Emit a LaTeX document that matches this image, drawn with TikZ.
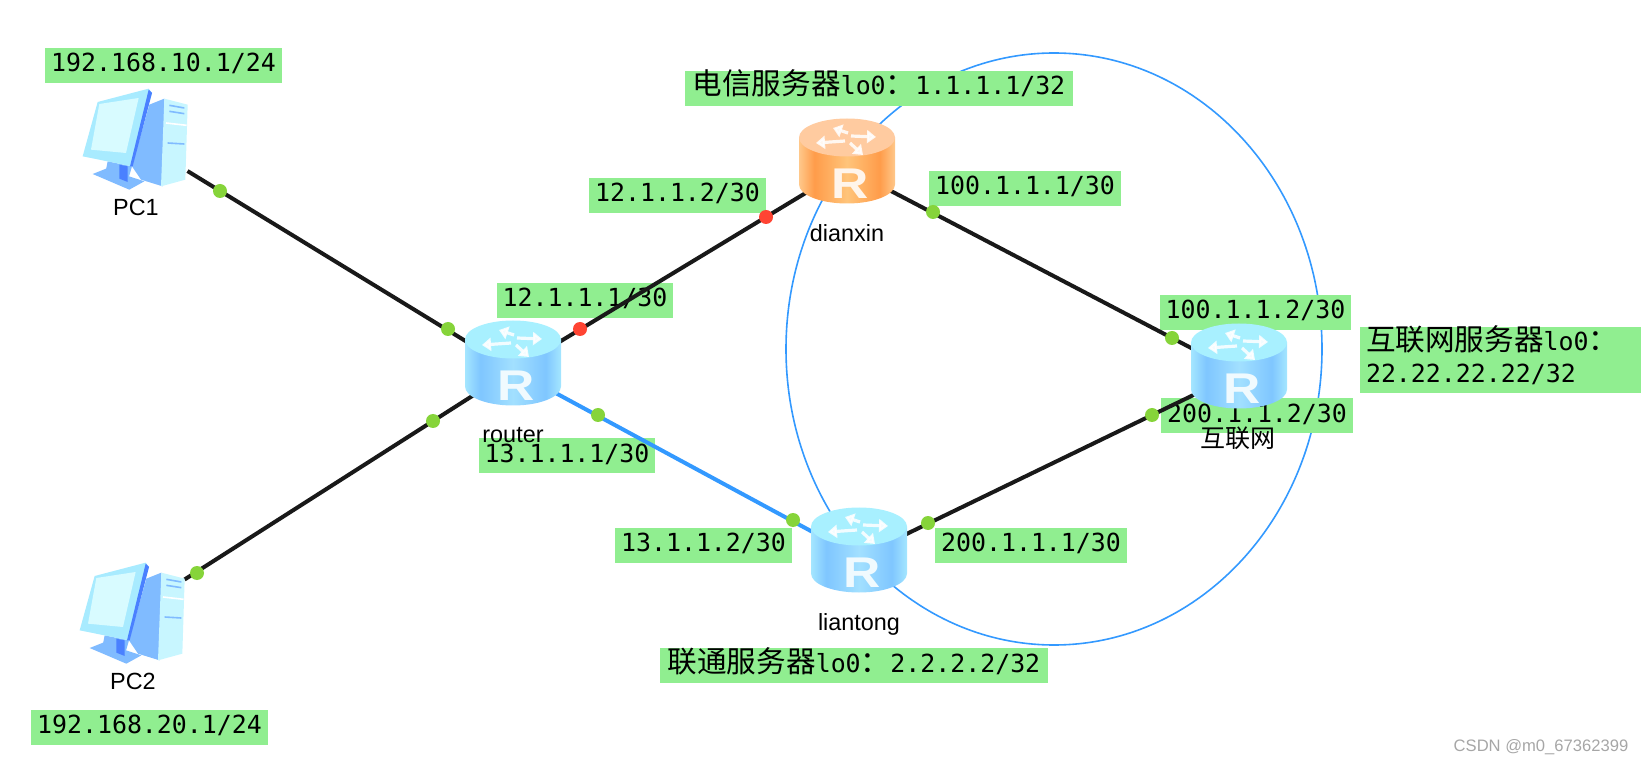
\documentclass[tikz,border=0pt]{standalone}
\usepackage{fontspec}
\setmainfont{Liberation Sans}
\newfontfamily\ipfont{DejaVu Sans Mono}
\newfontfamily\cjk{Noto Sans CJK SC}
\newcommand{\cntext}[1]{{\cjk\fontsize{14.8pt}{16pt}\selectfont #1}}
\usetikzlibrary{arrows.meta,calc,positioning}
\definecolor{labelgreen}{HTML}{90EE90}
\definecolor{linkblue}{HTML}{3399FF}
\definecolor{portgreen}{HTML}{86D43A}
\definecolor{portred}{HTML}{FF4433}
\definecolor{bluetop}{HTML}{A8F0FF}
\definecolor{blueedge}{HTML}{A4E6FF}
\definecolor{bluedark}{HTML}{7FC6FF}
\definecolor{bluemid}{HTML}{A2E0FF}
\definecolor{orangetop}{HTML}{FFCBA0}
\definecolor{orangeedge}{HTML}{FFC88A}
\definecolor{orangedark}{HTML}{FF9C4A}
\definecolor{orangemid}{HTML}{FFC47A}
\definecolor{pcframe}{HTML}{A8EBFF}
\definecolor{pcscreen}{HTML}{D8FBFF}
\definecolor{pctower}{HTML}{C8F6FF}
\definecolor{pcside}{HTML}{80BBFF}
\definecolor{pcdark}{HTML}{4A80FF}
\pgfdeclarehorizontalshading{blueside}{100bp}{color(0bp)=(blueedge); color(25bp)=(blueedge); color(33bp)=(bluedark); color(50bp)=(bluemid); color(67bp)=(bluedark); color(75bp)=(blueedge); color(100bp)=(blueedge)}
\pgfdeclarehorizontalshading{orangeside}{100bp}{color(0bp)=(orangeedge); color(25bp)=(orangeedge); color(33bp)=(orangedark); color(50bp)=(orangemid); color(67bp)=(orangedark); color(75bp)=(orangeedge); color(100bp)=(orangeedge)}
\tikzset{
    devnode/.style={inner sep=0pt,outer sep=0pt},
    routernode/.style={devnode,minimum width=30pt,minimum height=25pt},
    pcnode/.style={devnode,minimum width=52.5pt,minimum height=51pt},
    devname/.style={inner sep=0pt,font=\fontsize{11.7pt}{14pt}\selectfont},
    iplabel/.style={fill=labelgreen,inner xsep=3pt,inner ysep=0pt,text height=12pt,text depth=5.5pt,
        font=\ipfont\fontsize{12.45pt}{16pt}\selectfont},
    netlink/.style={line width=2pt,draw=black!90},
    bluelink/.style={line width=2pt,draw=linkblue},
    ringlink/.style={line width=0.8pt,draw=linkblue},
    pics/routericon/.style n args={3}{code={
        \shade[shading=#1] (-48,-23.5) -- (-48,23.5) arc[start angle=180,end angle=360,x radius=24pt,y radius=9.5pt] -- (48,-23.5) -- cycle;
        \fill[#2] (0,-23.5) ellipse [x radius=24pt,y radius=9.5pt];
        \foreach \ax/\ay/\bx/\by in {1/-28/-14/-33,4/-25/29/-24,-2/-20/-31/-18,3/-18/16/-6}{
            \draw[white,opacity=0.85,line width=1.6pt,-{Triangle[length=4.5pt,width=6.5pt]}] (\ax,\ay) -- (\bx,\by);}
        \node[inner sep=0pt,text=#3,xscale=1.2,font=\bfseries\fontsize{21.5pt}{24pt}\selectfont] (letter) at (3,22.5) {R};
    }},
    pics/pcicon/.style={code={
        \begin{scope}[x=0.1667pt,y=-0.1667pt,shift={(-187,-173)}]
        \fill[pcside] (60,278) -- (100,262) -- (215,300) -- (170,325) -- cycle;
        \fill[pcside] (105,240) -- (178,255) -- (165,300) -- (100,265) -- cycle;
        \fill[pcdark] (140,250) -- (165,255) -- (165,302) -- (140,292) -- cycle;
        \fill[pcside] (230,70) -- (275,52) -- (270,315) -- (205,295) -- (178,255) -- cycle;
        \fill[pctower] (275,52) -- (345,70) -- (338,295) -- (265,315) -- cycle;
        \draw[pcside,line width=0.8pt] (290,72) -- (335,80) (290,90) -- (335,97) (285,185) -- (335,188);
        \draw[white,line width=0.8pt] (280,125) -- (342,132);
        \fill[pcframe] (75,62) -- (228,22) -- (238,35) -- (178,255) -- (30,225) -- cycle;
        \fill[pcscreen] (80,68) -- (198,50) -- (160,215) -- (55,205) -- cycle;
        \fill[pcdark] (228,25) -- (238,35) -- (180,255) -- (172,255) -- cycle;
        \end{scope}
    }}
}
\begin{document}
\begin{tikzpicture}[x=0.5pt,y=-0.5pt]
  \useasboundingbox (0,0) rectangle (1644,764);
  \node[pcnode] (pc1) at (135,139) {};
  \node[pcnode] (pc2) at (132,613) {};
  \node[routernode] (router) at (513,370) {};
  \node[routernode] (dianxin) at (847,168) {};
  \node[routernode] (liantong) at (859,557) {};
  \node[routernode] (hulianwang) at (1239,373) {};
  \draw[ringlink] (1054,349) ellipse [x radius=134pt,y radius=148pt];
  \node[iplabel] (ippc1) at (163.5,65.5) {192.168.10.1/24};
  \node[iplabel] (ippc2) at (149.5,727) {192.168.20.1/24};
  \node[iplabel] (iprone) at (585,300.5) {12.1.1.1/30};
  \node[iplabel] (iprtwo) at (567,456) {13.1.1.1/30};
  \node[iplabel] (ipdxa) at (677.5,195.5) {12.1.1.2/30};
  \node[iplabel] (ipdxb) at (1025,188.5) {100.1.1.1/30};
  \node[iplabel] (iphla) at (1255.5,312.5) {100.1.1.2/30};
  \node[iplabel] (iphlb) at (1257,416) {200.1.1.2/30};
  \node[iplabel] (iplta) at (703.5,545.5) {13.1.1.2/30};
  \node[iplabel] (ipltb) at (1031,545.5) {200.1.1.1/30};
  \node[iplabel,inner xsep=3.7pt] (lodx) at (879,88.5) {\cntext{电信服务器}lo0\cntext{：}1.1.1.1/32};
  \node[iplabel,inner xsep=3.7pt] (lolt) at (854,665.5) {\cntext{联通服务器}lo0\cntext{：}2.2.2.2/32};
  \node[iplabel,align=left,text width=134.5pt,text height=12pt,text depth=21pt] (lohl) at (1500.5,360)
    {\cntext{互联网服务器}lo0\cntext{：}\\22.22.22.22/32};
  \draw[netlink] (pc1) -- (router);
  \draw[netlink] (pc2) -- (router);
  \draw[netlink] (router) -- (dianxin);
  \draw[bluelink] (router) -- (liantong);
  \draw[netlink] (dianxin) -- (hulianwang);
  \draw[netlink] (liantong) -- (hulianwang);
  \foreach \x/\y in {220/191,448/329,433/421,197/573,933/212,1172/338,598/415,793/520,928/523,1152/415}{
    \fill[portgreen] (\x,\y) circle (3.5pt);}
  \foreach \x/\y in {580/329,766/217}{\fill[portred] (\x,\y) circle (3.5pt);}
  \pic (iconpcone) at (pc1) {pcicon};
  \pic (iconpctwo) at (pc2) {pcicon};
  \pic[yshift=3.5pt] (iconrouter) at (router) {routericon={blueside}{bluetop}{cyan!6!white}};
  \pic[yshift=3.5pt] (icondianxin) at (dianxin) {routericon={orangeside}{orangetop}{orange!8!white}};
  \pic[yshift=3.5pt] (iconliantong) at (liantong) {routericon={blueside}{bluetop}{cyan!6!white}};
  \pic[yshift=3.5pt] (iconhulianwang) at (hulianwang) {routericon={blueside}{bluetop}{cyan!6!white}};
  \node[devname] (namepcone) at (136,207) {PC1};
  \node[devname] (namepctwo) at (133,681) {PC2};
  \node[devname] (namerouter) at (513,435) {router};
  \node[devname] (namedianxin) at (847,233) {dianxin};
  \node[devname] (nameliantong) at (859,624) {liantong};
  \node[devname,font=\cjk\fontsize{12.5pt}{14pt}\selectfont] (namehulianwang) at (1238,438) {互联网};
  \node[inner sep=0pt,text=black!35,font=\fontsize{8.3pt}{10pt}\selectfont] (mark) at (1541,747) {CSDN @m0\_67362399};
\end{tikzpicture}
\end{document}
